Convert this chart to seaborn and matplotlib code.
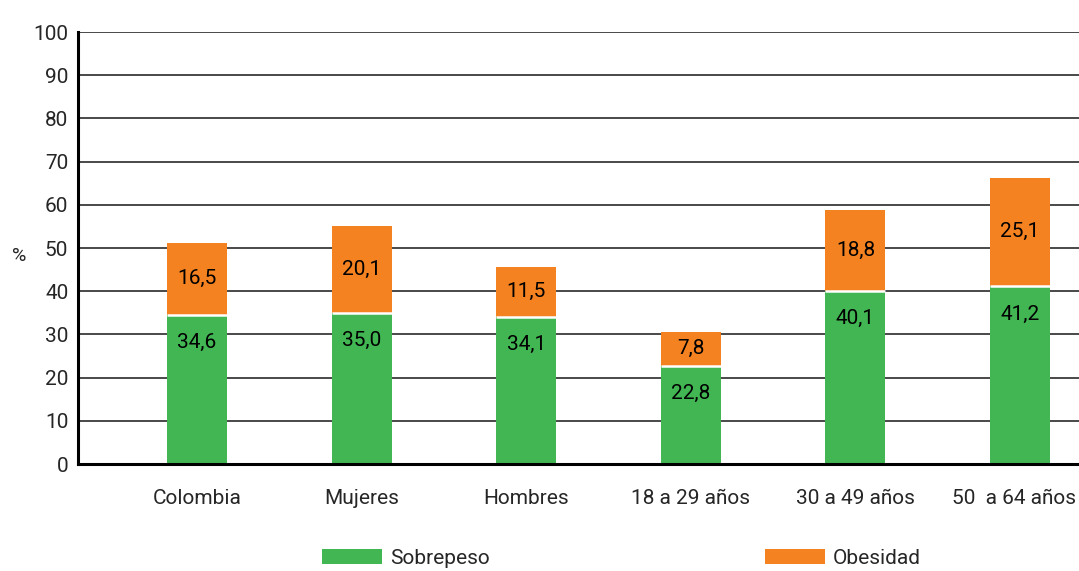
import matplotlib
matplotlib.use("Agg")
import matplotlib.pyplot as plt
import matplotlib.transforms as mtransforms
import seaborn as sns
import pandas as pd
from matplotlib.patches import Patch

categorias = ["Colombia", "Mujeres", "Hombres", "18 a 29 años", "30 a 49 años", "50  a 64 años"]
sobrepeso = [34.6, 35.0, 34.1, 22.8, 40.1, 41.2]
obesidad = [16.5, 20.1, 11.5, 7.8, 18.8, 25.1]
yticks = [0, 10, 20, 30, 40, 50, 60, 70, 80, 90, 100]

sns.set_theme(style="white")
plt.rcParams['font.family'] = ['Roboto', 'DejaVu Sans']

VERDE = "#41B653"
NARANJA = "#F58220"
FS = 15

df = pd.DataFrame({"cat": categorias, "sob": sobrepeso, "obe": obesidad})

fig = plt.figure(figsize=(10.79, 5.71), dpi=100)
ax = fig.add_axes([78/1079, 1 - 464/571, 1 - 78/1079, (464 - 32)/571])

for y in yticks[1:]:
    ax.axhline(y, color="#3a3a3a", lw=1.3, zorder=0)

sns.barplot(data=df, x="cat", y="sob", color=VERDE, width=0.365, saturation=1,
            ax=ax, zorder=2, edgecolor="none", linewidth=0)
sns.barplot(data=df, x="cat", y="obe", bottom=df["sob"], color=NARANJA, width=0.365,
            saturation=1, ax=ax, zorder=2, edgecolor="none", linewidth=0)

# white separator between segments
for i, s in enumerate(sobrepeso):
    ax.plot([i - 0.1825, i + 0.1825], [s, s], color="white", lw=1.8, zorder=3,
            solid_capstyle="butt")

for i, (s, o) in enumerate(zip(sobrepeso, obesidad)):
    ax.annotate(f"{s:.1f}".replace(".", ","), (i, s), xytext=(0, -28),
                textcoords="offset pixels", ha="center", va="center", fontsize=FS,
                color="black", zorder=4)
    ax.text(i, s + o / 2, f"{o:.1f}".replace(".", ","), ha="center", va="center",
            fontsize=FS, color="black", zorder=4)

ax.set_xlim(-0.723, 5.358)
ax.set_ylim(0, 100)
ax.set_yticks(yticks)
ax.set_yticklabels([str(v) for v in yticks], fontsize=FS)
ax.set_xticks(range(len(categorias)))
ax.set_xticklabels(categorias, fontsize=FS)
ax.tick_params(axis="y", length=0, pad=7)
ax.tick_params(axis="x", length=0, pad=18)
ax.set_xlabel("")
ax.set_ylabel("")
for side in ["top", "right"]:
    ax.spines[side].set_visible(False)
for side in ["left", "bottom"]:
    ax.spines[side].set_color("black")
    ax.spines[side].set_linewidth(2.2)

# keep the last category label inside the figure edge
last = ax.get_xticklabels()[-1]
last.set_transform(last.get_transform() +
                   mtransforms.ScaledTranslation(-6/100, 0, fig.dpi_scale_trans))

fig.text(12/1079, 1 - 256/571, "%", fontsize=FS - 1, ha="left", va="center")

handles = [Patch(facecolor=VERDE, edgecolor="none", label="Sobrepeso"),
           Patch(facecolor=NARANJA, edgecolor="none", label="Obesidad")]
fig.legend(handles=handles, loc="upper left", bbox_to_anchor=(322/1079, 1 - 549/571),
           ncol=2, frameon=False, fontsize=FS, handlelength=2.88, handleheight=0.7,
           handletextpad=0.38, columnspacing=13.2, borderpad=0, borderaxespad=0)

fig.savefig("out.png", dpi=100)
